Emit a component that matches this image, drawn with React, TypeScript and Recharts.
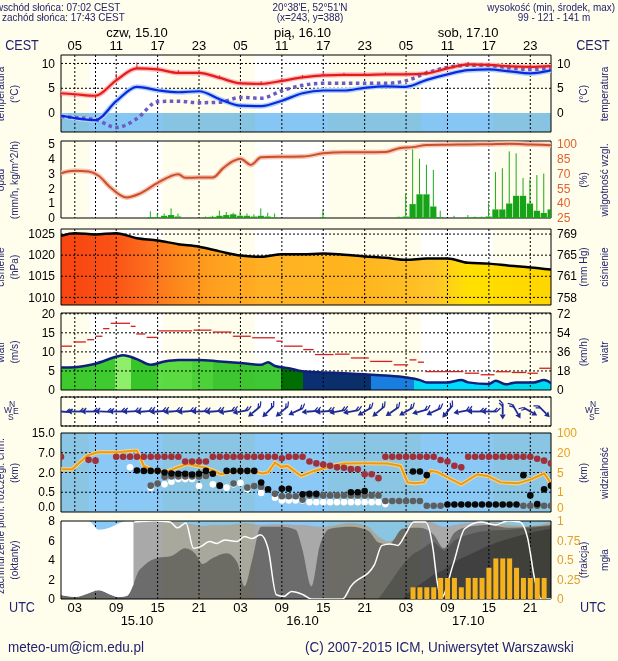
import React from "react";
import {
  Area,
  Bar,
  CartesianGrid,
  ComposedChart,
  ErrorBar,
  Line,
  ReferenceArea,
  Scatter,
  XAxis,
  YAxis,
} from "recharts";

const W = 618;
const H = 661;
const FONT = "'Liberation Sans', Arial, sans-serif";
const INK = "#22226e";
const BG = "#fffdec";
const NIGHT = "#dcdcdc";

// time axis: hours counted from 15.10 00 UTC
const X_DOMAIN = [1, 72];
const ENDS = X_DOMAIN.map((h) => ({ h }));
const HOURLY = Array.from({ length: 72 }, (_, i) => i + 1);
const gap = (n: number) => Array(n).fill(null);

const GRID_HOURS = [3, 6, 9, 12, 15, 18, 21, 24, 27, 30, 33, 36, 39, 42, 45, 48, 51, 54, 57, 60, 63, 66, 69];
const LABEL_HOURS = [3, 9, 15, 21, 27, 33, 39, 45, 51, 57, 63, 69];
const CEST_LABELS = ["05", "11", "17", "23", "05", "11", "17", "23", "05", "11", "17", "23"];
const UTC_LABELS = ["03", "09", "15", "21", "03", "09", "15", "21", "03", "09", "15", "21"];
const DAY_HOURS = [12, 36, 60];
const DAY_NAMES = ["czw, 15.10", "pią, 16.10", "sob, 17.10"];
const DATE_NAMES = ["15.10", "16.10", "17.10"];
const NIGHT_FROM = [1, 15.72, 39.68, 63.65];
const NIGHT_TO = [5.03, 29.07, 53.1, 72];

// temperature
const T_HOURS = [1, 3, 6, 9, 12, 15, 18, 21, 24, 27, 30, 33, 36, 39, 42, 45, 48, 51, 54, 57, 60, 63, 66, 69, 72];
const TEMP = [4.0, 3.8, 3.5, 6.6, 9.0, 8.8, 8.1, 8.1, 7.1, 6.0, 5.9, 6.5, 7.2, 7.6, 7.7, 7.7, 7.8, 7.8, 8.0, 9.0, 9.8, 9.7, 9.4, 9.3, 9.45];
const TEMP_DOWN = [0.8, 0.8, 0.6, 0, 0, 0, 0, 0, 0, 0, 0, 0, 0, 0, 0, 0, 0, 0, 0, 0, 0, 0, 0, 0, 0];
const TEMP_UP = [0, 0, 0, 1.3, 1.2, 0.8, 0.6, 0.6, 0.5, 0.3, 0.5, 0.6, 0.5, 0.5, 0.4, 0.4, 0.4, 0.4, 0.6, 0.6, 0.5, 0.4, 0.4, 0.4, 0.3];
const DEW = [-0.5, -1.0, -1.4, 2.4, 5.3, 4.6, 4.2, 4.4, 2.8, 1.5, 1.4, 2.5, 4.0, 4.55, 4.55, 5.1, 5.4, 5.3, 6.7, 7.8, 8.65, 8.8, 8.4, 8.0, 8.6];
const FEEL = [-0.7, -0.9, -1.3, -2.9, -1.1, 2.3, 2.4, 2.1, 2.2, 3.15, 3.0, 4.5, 5.6, 6.0, 6.0, 6.0, 6.0, 6.5, 8.1, 9.2, 9.65, 9.6, 9.1, 8.8, 9.0];

// precipitation (hourly, h1..h72) and relative humidity
const RAIN = [
  ...gap(13).map(() => 0),
  0.05, 0.05, 0.15, 0.2, 0.1, 0, 0, 0, 0.05, 0.08, 0.15, 0.2, 0.25, 0.15, 0.15, 0.1, 0.15, 0.1, 0.05,
  0, 0, 0, 0, 0, 0, 0.05,
  0, 0, 0, 0, 0, 0, 0, 0, 0, 0,
  0.05, 0.1, 0.94, 1.6, 1.6, 0.78, 0.05, 0, 0.02, 0, 0.02, 0.05, 0.05, 0.1, 0.58, 0.58, 0.98, 1.5, 1.5, 0.98, 0.49, 0.34, 0.58,
];
const RAIN_MAX = [
  ...gap(13).map(() => 0),
  0.45, 0.3, 0.3, 0.65, 0.3, 0, 0, 0, 0.1, 0.15, 0.5, 0.4, 0.35, 0.45, 0.3, 0.25, 0.65, 0.35, 0.3,
  0, 0, 0.6, 0.6, 0.45, 0.3, 0.55,
  0, 0, 0, 0, 0, 0, 0, 0, 0, 0,
  0.1, 1.68, 4.7, 4.0, 3.6, 3.25, 0.5, 0, 0.15, 0.15, 0.2, 0.1, 0.1, 0.98, 3.1, 3.36, 4.5, 4.37, 2.7, 2.6, 2.9, 3.0, 0.6,
];
const HUM_HOURS = [1, 3, 5, 6.5, 8, 10.5, 12.5, 15, 18, 19, 21, 23, 24.5, 26, 27, 28.5, 30, 33, 36, 39, 42, 45, 48, 50, 52, 54, 57, 60, 63, 66, 69, 72];
const HUM = [70.4, 72.8, 72, 67.5, 57, 45.8, 50, 60.5, 69.4, 65.7, 66, 66, 75.5, 82.8, 85, 78.8, 86.5, 87, 87.2, 90.5, 91.6, 91.6, 91.8, 95.7, 96.8, 99, 99.3, 99.5, 99.8, 100.3, 99.5, 98.7];

// pressure
const PRESS = [1024.6, 1025.2, 1024.9, 1025.2, 1024.0, 1023.5, 1022.6, 1022.0, 1020.9, 1019.9, 1019.6, 1020.2, 1020.2, 1020.4, 1020.1, 1019.7, 1019.4, 1018.9, 1019.2, 1019.2, 1018.2, 1018.0, 1017.5, 1017.1, 1016.6];
const PRESS_COLOR_HOURS = [1, 8, 13, 18, 23, 30, 45, 55, 60, 72];
const PRESS_COLORS = ["#f84412", "#fa5016", "#fc6a1c", "#fd8a1e", "#fea020", "#ffb024", "#ffb820", "#ffc42a", "#ffe000", "#ffd800"];

// wind
const WIND_HOURS = [1, 3, 6, 9, 10, 12, 14, 16, 18, 21, 24, 27, 30, 31, 32, 34, 36, 39, 42, 45, 48, 51, 53, 54, 57, 59, 60, 63, 64, 65.5, 67, 69.5, 71, 72];
const WIND = [5.9, 6.0, 6.9, 8.7, 9.1, 8.1, 6.6, 7.5, 7.9, 7.9, 7.5, 7.1, 6.6, 7.3, 6.3, 5.7, 4.9, 4.6, 4.4, 4.1, 3.8, 3.3, 2.6, 2.0, 2.0, 2.6, 2.0, 1.6, 2.4, 1.5, 2.0, 2.0, 2.6, 1.8];
const WIND_COLOR_HOURS = [1, 8.8, 11.1, 15, 20, 23, 32.9, 36, 45.9, 52.1];
const WIND_COLORS = ["#3ecb30", "#8ef06a", "#36c62a", "#5cdc46", "#4cd43c", "#3ec834", "#006e00", "#0b2f72", "#1a7ff0", "#00dcff"];
const GUST_START = [1, 2.8, 4.8, 6, 7.1, 8.2, 11.1, 11.9, 13.4, 15.1, 20.2, 23, 25.9, 28.7, 32.2, 33.3, 36.1, 37.8, 40.7, 43, 45.8, 49.2, 51.5, 52.7, 53.8, 59.5, 61.8, 64, 66.3, 68.6, 70.3];
const GUST_END = [2.6, 4.6, 5.8, 7.0, 8.0, 11.0, 11.8, 13.2, 15.0, 20.0, 22.8, 25.7, 28.5, 32.0, 33.1, 36.0, 37.6, 40.5, 42.8, 45.6, 49.0, 51.3, 52.5, 53.6, 59.3, 61.6, 63.8, 66.1, 68.4, 70.1, 72];
const GUST = [11.5, 12.6, 13.2, 14.1, 16.1, 17.5, 16.7, 14.7, 13.8, 15.5, 15.7, 15.2, 14.1, 13.7, 12.8, 11.5, 10.6, 9.3, 9.4, 8.4, 7.5, 6.6, 7.9, 7.3, 4.8, 4.4, 4.0, 4.8, 4.6, 4.4, 5.7];

// wind direction (degrees, where the wind comes from)
const DIR_HOURS = [1, 3, 5, 7, 9, 11, 13, 15, 17, 19, 21, 23, 25, 27, 29, 31, 33, 35, 37, 39, 41, 43, 45, 47, 49, 51, 53, 55, 57, 59, 61, 63, 65, 67, 69, 71];
const DIR = [95, 90, 90, 92, 90, 88, 85, 85, 85, 85, 88, 85, 82, 80, 50, 45, 50, 65, 85, 85, 80, 80, 60, 50, 55, 60, 75, 65, 40, 80, 90, 90, 0, 330, 300, 315];

// cloud base (km, left) and visibility (km, right)
const BASE_TICKS = [0, 0.5, 2, 7, 15];
const VIS_TICKS = [0, 1, 5, 20, 100];
const VIS_HOURS = [1, 2.6, 4.8, 6.3, 9.2, 11.4, 12, 13, 14.5, 16.4, 17.9, 19.3, 20.8, 21.8, 23.2, 24.2, 25.6, 27.2, 29, 30.2, 31, 32, 32.9, 33.8, 35.8, 37.7, 40.2, 42, 45.4, 48.3, 50.2, 51.2, 52.2, 53.6, 54.6, 55.5, 57, 59, 61.3, 62.8, 64.7, 67.2, 69.1, 71, 72];
const VIS = [7.5, 7.5, 17.8, 22, 22, 28, 28, 10, 6.2, 5.8, 8.9, 11.5, 10, 8.9, 6.2, 4.6, 5.5, 6.2, 5.8, 4.8, 5.2, 12.5, 9.3, 10, 4.3, 6.2, 10, 11.9, 12, 11.9, 10, 3.0, 2.8, 3.0, 6.2, 5.5, 4.0, 2.6, 4.6, 4.3, 3.0, 2.8, 3.6, 4.8, 2.8];
const BASE_HIGH = [
  6.0, null, null, null, 5.2, 5.0, null, null,
  6.0, 6.0, 6.0, 6.0, 6.0, 6.0, 6.0, 6.0, 6.0, 6.0,
  4.8, 4.8, 4.8, 4.8,
  6.0, 6.0, 6.0, 6.0, 6.0, 6.0, 6.0, 6.0, 6.0, 6.0,
  5.6, 6.0, 6.0, 6.0,
  4.8, 4.3, 4.0, 3.7, 3.3, 3.2, 2.85, 2.8, 1.87, 1.87, 1.57,
  6.0, 6.0, 6.0, 6.0, 6.0, 6.0, 6.0, 6.0,
  5.15, 4.8, 3.7, 3.3,
  6.0, 6.0, 6.0, 6.0, 6.0, 6.0, 6.0, 6.0, 6.0, 6.0,
  5.5, 5.0, 4.3,
];
const BASE_LOW = [
  ...gap(11),
  2.5, 2.4, 2.4, 2.4, 2.0, 1.92, 1.9, 1.9, 1.85, 1.9, 2.4, 1.9, 1.0, 2.4, 2.4, 2.4, 2.4, 2.4, 1.24, 0.72,
  null, 0.77, 0.77, null,
  0.45, 0.46, 0.46,
  ...gap(4),
  0.5, 0.5, 0.59,
  ...gap(6),
  2.25, 2.25, 1.8,
  ...gap(2),
  0.19, 0.19, 0.19, 0.19, 0.19, 0.19, 0.19, 0.19, 0.19, 0.19, 0.19,
  1.8, 0.42, 0.2, 0.72, 1.0,
];
const BASE_MID = [
  ...gap(13),
  1.0, 1.16, 1.67, 1.7, 1.7, 1.7, 1.7, 1.7, 1.74,
  null, 1.0, null, 1.16, null, 0.85, 0.98, 0.92, null,
  0.46, 0.4, 0.4, 0.4, 0.31,
  0.42, 0.42, 0.42, 0.42, 0.42, 0.42, 0.42, 0.42, 0.42, 0.42, 0.42,
  0.28, 0.28, 0.28, 0.28, 0.28, 0.28,
  0.16, 0.16, 0.16,
  ...gap(11),
  0.16, 0.16, 0.16, 0.16, 0.16,
];
const BASE_FOG = [
  ...gap(10),
  3.3, null, null, 0.85, null, 1.1, 1.3, 1.5, 1.5, 1.5, 0.98, null, 1.1, null, 0.85, 1.1, 1.2, 0.72, null, 0.48, null, 0.36,
  0.29, 0.29, 0.29, 0.29,
  0.25, 0.25, 0.25, 0.25, 0.25, 0.25, 0.25, 0.25, 0.25, 0.25, 0.25,
  0.2,
  ...gap(24),
];

// cloud cover (oktas) and fog fraction
const CLOUD_HOURS = [1, 3, 5, 6.5, 8, 9.5, 10.5, 11.5, 12, 13, 15, 17, 19, 20.5, 21.5, 23, 25, 26.5, 27.6, 28.7, 30, 33, 35, 36, 37.3, 38.5, 40, 43, 45.5, 47, 48.5, 50.5, 52, 53, 55, 56.5, 58, 60, 63, 66, 69, 72];
const CLOUD_WHITE = [8, 8, 8, 7.1, 7.3, 7.8, 8, 8, ...gap(34)];
const CLOUD_TOTAL = [...gap(6), 0, 8, 8, 8, 8, 7.9, 7.8, 7.6, 7.5, 7.6, 7.6, 7.7, 7.8, 7.7, 7.6, 7.7, 7.6, 7.6, 7.5, 7.4, 7.5, 7.8, 7.4, 6.4, 5.9, 7.0, 7.9, 8.0, 7.8, 7.4, 7.6, 7.8, 7.9, 7.6, 7.5, 7.9];
const CLOUD_MID = [0.4, 0.2, 0.6, 0.9, 0.5, 0.2, 0.3, 1.5, 2.5, 3.4, 4.2, 4.4, 5.2, 4.6, 3.6, 4.2, 4.7, 3.8, 1.3, 4.0, 7.4, 7.4, 7.1, 5.0, 1.3, 5.5, 7.2, 7.4, 7.0, 5.8, 5.6, 7.2, 7.3, 7.3, 6.6, 5.2, 6.8, 7.4, 7.6, 7.3, 7.4, 7.6];
const CLOUD_LOW = [...gap(29), 0, 1.5, 3.5, 4.6, 5.0, 5.8, 5.0, 6.0, 6.6, 7.0, 7.1, 7.3, 7.5];
const CLOUD_LOWEST = [...gap(31), 0, 1.0, 1.5, 2.5, 3.0, 3.8, 4.5, 5.5, 6.2, 6.8, 7.2];
const WL_HOURS = [11.6, 14.5, 16.8, 17.9, 19.1, 20.2, 21.3, 22.5, 23.6, 24.7, 26.5, 27.6, 28.7, 29.9, 31, 32.2, 33.3, 34.4, 36.1, 37.3, 41.8, 43, 46.4, 47.5, 48.7, 49.8, 50.9, 52.1, 53.8, 54.9, 55.5, 56.1, 57.8, 59.5, 61.8, 64, 65.7, 67.5, 68.6, 69.7, 70.6, 72];
const WL = [7.9, 8.0, 7.9, 7.3, 7.8, 5.2, 5.4, 5.9, 5.7, 6.05, 5.9, 6.4, 6.2, 6.6, 5.2, 0.44, 0.27, 0.78, 0.44, 0, 0, 1.3, 3.5, 5.5, 5.65, 5.5, 6.6, 7.9, 7.9, 5.2, 1.8, 0.1, 3.5, 7.2, 7.9, 7.6, 8.0, 7.9, 6.3, 1.8, 0, 0];
const FOG_HOURS = [52, 53, 54, 55, 56, 57, 58, 59, 60, 61, 62, 63, 64, 65, 66, 67, 68, 69, 70, 71];
const FOG = [0.15, 0.15, 0.15, 0.15, 0.27, 0.27, 0.27, 0.15, 0.27, 0.27, 0.27, 0.4, 0.52, 0.52, 0.52, 0.4, 0.27, 0.27, 0.27, 0.27];

function toPos(v: number, ticks: number[]) {
  for (let i = 0; i < ticks.length - 1; i++) {
    if (v <= ticks[i + 1]) return i + (v - ticks[i]) / (ticks[i + 1] - ticks[i]);
  }
  return ticks.length - 1;
}

function mergeRows(series: [string, number[], any[]][]) {
  const map = new Map<number, any>();
  for (const [key, hours, vals] of series) {
    hours.forEach((h, i) => {
      const v = vals[i];
      if (v === null || v === undefined) return;
      const row = map.get(h) ?? { h };
      row[key] = v;
      map.set(h, row);
    });
  }
  return [...map.values()].sort((a, b) => a.h - b.h);
}

const tempRows = T_HOURS.map((h, i) => ({ h, t: TEMP[i], td: DEW[i], tf: FEEL[i], terr: [TEMP_DOWN[i], TEMP_UP[i]] }));
const rainRows = HOURLY.flatMap((h, i) =>
  RAIN[i] > 0 || RAIN_MAX[i] > 0 ? [{ h, r: RAIN[i], re: [0, Math.max(0, RAIN_MAX[i] - RAIN[i])] }] : []
);
const humRows = mergeRows([["rh", HUM_HOURS, HUM]]);
const pressRows = mergeRows([["p", T_HOURS, PRESS]]);
const windRows = mergeRows([["w", WIND_HOURS, WIND]]);
const gustRows = GUST.map((g, i) => ({ h: (GUST_START[i] + GUST_END[i]) / 2, g, e: (GUST_END[i] - GUST_START[i]) / 2 }));
const dirRows = DIR_HOURS.map((h, i) => ({ h, y: 0, dir: DIR[i] }));
const visRows = mergeRows([["v", VIS_HOURS, VIS.map((v) => toPos(v, VIS_TICKS))]]);
const dotRows = (vals: any[]) => HOURLY.flatMap((h, i) => (vals[i] == null ? [] : [{ h, y: toPos(vals[i], BASE_TICKS) }]));
const cloudRows = mergeRows([
  ["wr", CLOUD_HOURS, CLOUD_WHITE.map((w, i) => (w == null ? null : [CLOUD_MID[i], w]))],
  ["a", CLOUD_HOURS, CLOUD_TOTAL],
  ["c", CLOUD_HOURS, CLOUD_MID],
  ["d", CLOUD_HOURS, CLOUD_LOW],
  ["e", CLOUD_HOURS, CLOUD_LOWEST],
  ["wl", WL_HOURS, WL],
]);
const fogRows = FOG_HOURS.map((h, i) => ({ h, f: FOG[i] }));

type Ax = { domain: number[]; ticks: number[]; fmt?: (v: number) => string; color?: string; lift?: (v: number) => number };
type Spec = { top: number; bottom: number; left: Ax; right: Ax | null; grid: number[] };

const S_TEMP: Spec = { top: 55, bottom: 132, left: { domain: [-3.8, 11.7], ticks: [0, 5, 10] }, right: { domain: [-3.8, 11.7], ticks: [0, 5, 10] }, grid: [5, 10] };
const S_RAIN: Spec = { top: 141, bottom: 218, left: { domain: [0, 5.2], ticks: [0, 1, 2, 3, 4, 5] }, right: { domain: [25, 103], ticks: [25, 40, 55, 70, 85, 100], color: "#e0622c" }, grid: [1, 2, 3, 4, 5] };
const S_PRES: Spec = { top: 229, bottom: 305, left: { domain: [1008.2, 1026.2], ticks: [1010, 1015, 1020, 1025] }, right: { domain: [1008.2, 1026.2], ticks: [1010, 1015, 1020, 1025], fmt: (v) => String(Math.round(v * 0.750062)) }, grid: [1010, 1015, 1020, 1025] };
const S_WIND: Spec = { top: 313, bottom: 390, left: { domain: [0, 20.2], ticks: [0, 5, 10, 15, 20] }, right: { domain: [0, 20.2], ticks: [0, 5, 10, 15, 20], fmt: (v) => String(Math.round(v * 3.6)) }, grid: [5, 10, 15, 20] };
const S_DIR: Spec = { top: 397, bottom: 426, left: { domain: [-1, 1], ticks: [] }, right: null, grid: [] };
const S_VIS: Spec = {
  top: 433, bottom: 512,
  left: { domain: [0, 4], ticks: [0, 1, 2, 3, 4], fmt: (v) => BASE_TICKS[v].toFixed(1), lift: (v) => (v === 0 ? -5 : 0) },
  right: { domain: [0, 4], ticks: [0, 1, 2, 3, 4], fmt: (v) => String(VIS_TICKS[v]), color: "#e8a020", lift: (v) => (v === 0 ? -4 : 0) },
  grid: [1, 2, 3],
};
const S_CLOUD: Spec = { top: 521, bottom: 599, left: { domain: [0, 8], ticks: [0, 2, 4, 6, 8] }, right: { domain: [0, 1], ticks: [0, 0.25, 0.5, 0.75, 1], color: "#e0a030" }, grid: [2, 4, 6] };

const axisTick = (ax: Ax) => (p: any) => {
  const v = p.payload.value;
  return (
    <text x={p.x} y={p.y + (ax.lift ? ax.lift(v) : 0)} dy="0.35em" textAnchor={p.textAnchor} fill={ax.color ?? "#000"} fontSize={12} fontFamily={FONT}>
      {ax.fmt ? ax.fmt(v) : v}
    </text>
  );
};

function Layer({ spec, data, show = false, blend = false, children }: any) {
  const pad = 6;
  const r: Ax = spec.right ?? { domain: [0, 1], ticks: [] };
  return (
    <div style={{ position: "absolute", left: 0, top: spec.top - pad, mixBlendMode: blend ? "multiply" : "normal" }}>
      <ComposedChart width={W} height={spec.bottom - spec.top + 2 * pad} data={data ?? ENDS} margin={{ top: pad, right: 0, bottom: pad, left: 0 }}>
        <XAxis xAxisId="h" type="number" dataKey="h" domain={X_DOMAIN} ticks={GRID_HOURS} allowDataOverflow hide />
        <YAxis yAxisId="l" type="number" width={61} domain={spec.left.domain} ticks={spec.left.ticks} interval={0} allowDataOverflow
          tick={show ? axisTick(spec.left) : false} axisLine={false} tickLine={false} tickSize={0} tickMargin={6} />
        <YAxis yAxisId="r" orientation="right" type="number" width={67} domain={r.domain} ticks={r.ticks} interval={0} allowDataOverflow
          tick={show && spec.right ? axisTick(r) : false} axisLine={false} tickLine={false} tickSize={0} tickMargin={6} />
        {children}
      </ComposedChart>
    </div>
  );
}

const dayAreas = () =>
  NIGHT_TO.slice(0, 3).map((from, i) => (
    <ReferenceArea key={"d" + i} xAxisId="h" yAxisId="l" x1={from} x2={NIGHT_FROM[i + 1]} fill="#ffffff" fillOpacity={1} stroke="none" />
  ));

const gridFor = (spec: Spec) => [
  <CartesianGrid key="g" xAxisId="h" yAxisId="l" verticalValues={GRID_HOURS} horizontalValues={spec.grid} stroke="#000" strokeDasharray="2 2" />,
  <ReferenceArea key="f" xAxisId="h" yAxisId="l" x1={X_DOMAIN[0]} x2={X_DOMAIN[1]} y1={spec.left.domain[0]} y2={spec.left.domain[1]} fill="none" stroke="#000" strokeWidth={1} />,
];

const ser = { xAxisId: "h", yAxisId: "l", isAnimationActive: false, dot: false, activeDot: false } as any;

const dotShape = (color: string) => (p: any) =>
  p.cx == null ? <g /> : <circle cx={p.cx} cy={p.cy} r={3.3} fill={color} />;

function WindArrow(p: any) {
  const { cx, cy, payload } = p;
  if (cx == null || cy == null) return <g />;
  const a = (payload.dir * Math.PI) / 180;
  const ux = -Math.sin(a);
  const uy = Math.cos(a);
  const vx = -uy;
  const vy = ux;
  const L = 8;
  const tx = cx - ux * L, ty = cy - uy * L;
  const hx = cx + ux * L, hy = cy + uy * L;
  const bx = hx - ux * 5, by = hy - uy * 5;
  const head = `${hx},${hy} ${bx + vx * 3},${by + vy * 3} ${bx - vx * 3},${by - vy * 3}`;
  const f = `M${tx},${ty} l${(vx - ux) * 3.5},${(vy - uy) * 3.5} M${tx + ux * 3},${ty + uy * 3} l${(vx - ux) * 3.5},${(vy - uy) * 3.5}`;
  return (
    <g stroke="#1e2a96" fill="#1e2a96">
      <line x1={tx} y1={ty} x2={bx} y2={by} strokeWidth={1.8} />
      <polygon points={head} stroke="none" />
      <path d={f} fill="none" strokeWidth={1.2} />
    </g>
  );
}

function Backdrop() {
  return (
    <div style={{ position: "absolute", left: 0, top: 0 }}>
      <ComposedChart width={W} height={H} data={ENDS} margin={{ top: 27, right: 67, bottom: 33, left: 61 }}>
        <XAxis xAxisId="h" type="number" dataKey="h" domain={X_DOMAIN} allowDataOverflow hide />
        <YAxis yAxisId="l" domain={[0, 1]} hide />
        {NIGHT_FROM.map((from, i) => (
          <ReferenceArea key={i} xAxisId="h" yAxisId="l" x1={from} x2={NIGHT_TO[i]} fill={NIGHT} fillOpacity={1} stroke="none" />
        ))}
      </ComposedChart>
    </div>
  );
}

const scaleTick = { fill: "#000", fontSize: 13, fontFamily: FONT };

function TopScale() {
  return (
    <div style={{ position: "absolute", left: 0, top: 23 }}>
      <ComposedChart width={W} height={33} data={ENDS} margin={{ top: 0, right: 67, bottom: 0, left: 61 }}>
        <XAxis xAxisId="t1" orientation="top" type="number" dataKey="h" domain={X_DOMAIN} ticks={LABEL_HOURS} interval={0} height={16}
          axisLine={false} tickLine={false} tickSize={0} tickMargin={5} tick={scaleTick}
          tickFormatter={(v) => CEST_LABELS[LABEL_HOURS.indexOf(v)]} />
        <XAxis xAxisId="t2" orientation="top" type="number" dataKey="h" domain={X_DOMAIN} ticks={DAY_HOURS} interval={0} height={16}
          axisLine={false} tickLine={false} tickSize={0} tickMargin={2.5} tick={scaleTick}
          tickFormatter={(v) => DAY_NAMES[DAY_HOURS.indexOf(v)]} />
        <YAxis hide />
      </ComposedChart>
    </div>
  );
}

function BottomScale() {
  return (
    <div style={{ position: "absolute", left: 0, top: 598 }}>
      <ComposedChart width={W} height={36} data={ENDS} margin={{ top: 0, right: 67, bottom: 5, left: 61 }}>
        <XAxis xAxisId="b1" type="number" dataKey="h" domain={X_DOMAIN} ticks={LABEL_HOURS} interval={0} height={14}
          axisLine={false} tickLine={false} tickSize={0} tickMargin={4} tick={scaleTick}
          tickFormatter={(v) => UTC_LABELS[LABEL_HOURS.indexOf(v)]} />
        <XAxis xAxisId="b2" type="number" dataKey="h" domain={X_DOMAIN} ticks={DAY_HOURS} interval={0} height={16}
          axisLine={false} tickLine={false} tickSize={0} tickMargin={3} tick={scaleTick}
          tickFormatter={(v) => DATE_NAMES[DAY_HOURS.indexOf(v)]} />
        <YAxis hide />
      </ComposedChart>
    </div>
  );
}

function Txt({ x, y, align = "left", size = 11, color = INK, squeeze = 0.9, children }: any) {
  const tx = align === "center" ? "-50%" : align === "right" ? "-100%" : "0";
  const ox = align === "center" ? "50%" : align === "right" ? "100%" : "0";
  return (
    <div style={{ position: "absolute", left: x, top: y, transform: `translate(${tx}, -50%) scaleX(${squeeze})`, transformOrigin: `${ox} 50%`, whiteSpace: "nowrap", fontSize: size, color, fontFamily: FONT, lineHeight: 1 }}>
      {children}
    </div>
  );
}

function VText({ x, y, size = 11.5, color = INK, children }: any) {
  return (
    <div style={{ position: "absolute", left: x, top: y, transform: "translate(-50%, -50%) rotate(-90deg) scaleX(0.88)", whiteSpace: "nowrap", fontSize: size, color, fontFamily: FONT, lineHeight: 1 }}>
      {children}
    </div>
  );
}

function Compass({ x, y }: any) {
  const s = { position: "absolute", fontSize: 8.5, lineHeight: 1 } as any;
  return (
    <div style={{ position: "absolute", left: x, top: y, width: 16, height: 24, color: INK, fontFamily: FONT }}>
      <span style={{ ...s, left: 5, top: 0 }}>N</span>
      <span style={{ ...s, left: 0, top: 6 }}>W</span>
      <span style={{ ...s, left: 9, top: 7 }}>E</span>
      <span style={{ ...s, left: 4, top: 13 }}>S</span>
    </div>
  );
}

export default function App() {
  const mid = (s: Spec) => (s.top + s.bottom) / 2;
  return (
    <div style={{ position: "absolute", left: 0, top: 0, width: W, height: H, background: BG, overflow: "hidden", fontFamily: FONT }}>
      <Backdrop />
      <TopScale />
      <BottomScale />

      {/* temperature */}
      <Layer spec={S_TEMP}>{dayAreas()}</Layer>
      <Layer spec={S_TEMP} blend>
        <ReferenceArea xAxisId="h" yAxisId="l" x1={X_DOMAIN[0]} x2={X_DOMAIN[1]} y1={S_TEMP.left.domain[0]} y2={0} fill="#86c6f4" fillOpacity={1} stroke="none" />
      </Layer>
      <Layer spec={S_TEMP} data={tempRows} show>
        {gridFor(S_TEMP)}
        <Line {...ser} dataKey="t" type="monotone" stroke="#ffbcbc" strokeWidth={5} />
        <Line {...ser} dataKey="td" type="monotone" stroke="#b0d2f8" strokeWidth={5} />
        <Line {...ser} dataKey="tf" type="monotone" stroke="#6a5cc0" strokeWidth={3.5} strokeDasharray="3.5 3.5" />
        <Line {...ser} dataKey="td" type="monotone" stroke="#0a28e0" strokeWidth={2.2} />
        <Line {...ser} dataKey="t" type="monotone" stroke="#e41c1c" strokeWidth={2.2}>
          <ErrorBar dataKey="terr" direction="y" width={0} stroke="#e41c1c" strokeWidth={1} isAnimationActive={false} />
        </Line>
      </Layer>

      {/* precipitation + humidity */}
      <Layer spec={S_RAIN}>{dayAreas()}</Layer>
      <Layer spec={S_RAIN} data={rainRows}>
        {gridFor(S_RAIN)}
        <Bar xAxisId="h" yAxisId="l" dataKey="r" fill="#16a416" barSize={7} isAnimationActive={false}>
          <ErrorBar dataKey="re" direction="y" width={0} stroke="#1ea81e" strokeWidth={1} isAnimationActive={false} />
        </Bar>
      </Layer>
      <Layer spec={S_RAIN} data={humRows} show>
        <Line {...ser} yAxisId="r" dataKey="rh" type="monotone" stroke="#f8c6b6" strokeWidth={5} />
        <Line {...ser} yAxisId="r" dataKey="rh" type="monotone" stroke="#c8502a" strokeWidth={2} />
      </Layer>

      {/* pressure */}
      <Layer spec={S_PRES}>{dayAreas()}</Layer>
      <Layer spec={S_PRES} data={pressRows} blend>
        <defs>
          <linearGradient id="pressFill" x1="0" y1="0" x2="1" y2="0">
            {PRESS_COLOR_HOURS.map((h, i) => (
              <stop key={i} offset={(h - X_DOMAIN[0]) / (X_DOMAIN[1] - X_DOMAIN[0])} stopColor={PRESS_COLORS[i]} />
            ))}
          </linearGradient>
        </defs>
        <Area {...ser} dataKey="p" type="monotone" baseValue={S_PRES.left.domain[0]} stroke="none" fill="url(#pressFill)" fillOpacity={1} />
      </Layer>
      <Layer spec={S_PRES} data={pressRows} show>
        {gridFor(S_PRES)}
        <Line {...ser} dataKey="p" type="monotone" stroke="#000" strokeWidth={2.5} />
      </Layer>

      {/* wind */}
      <Layer spec={S_WIND}>{dayAreas()}</Layer>
      <Layer spec={S_WIND} data={windRows} blend>
        <defs>
          <linearGradient id="windFill" x1="0" y1="0" x2="1" y2="0">
            {WIND_COLOR_HOURS.flatMap((h, i) => {
              const end = WIND_COLOR_HOURS[i + 1] ?? X_DOMAIN[1];
              const span = X_DOMAIN[1] - X_DOMAIN[0];
              return [
                <stop key={"a" + i} offset={(h - X_DOMAIN[0]) / span} stopColor={WIND_COLORS[i]} />,
                <stop key={"b" + i} offset={(end - X_DOMAIN[0]) / span} stopColor={WIND_COLORS[i]} />,
              ];
            })}
          </linearGradient>
        </defs>
        <Area {...ser} dataKey="w" type="monotone" stroke="none" fill="url(#windFill)" fillOpacity={1} />
      </Layer>
      <Layer spec={S_WIND} data={windRows} show>
        {gridFor(S_WIND)}
        <Line {...ser} dataKey="w" type="monotone" stroke="#10207a" strokeWidth={2.5} />
        <Scatter xAxisId="h" yAxisId="l" data={gustRows} dataKey="g" shape={() => <g />} isAnimationActive={false}>
          <ErrorBar dataKey="e" direction="x" width={0} stroke="#d42020" strokeWidth={1.3} isAnimationActive={false} />
        </Scatter>
      </Layer>

      {/* wind direction */}
      <Layer spec={S_DIR}>{dayAreas()}</Layer>
      <Layer spec={S_DIR} data={dirRows}>
        {gridFor(S_DIR)}
        <Scatter xAxisId="h" yAxisId="l" data={dirRows} dataKey="y" shape={WindArrow} isAnimationActive={false} />
      </Layer>

      {/* cloud base + visibility */}
      <Layer spec={S_VIS}>{dayAreas()}</Layer>
      <Layer spec={S_VIS} blend>
        <ReferenceArea xAxisId="h" yAxisId="l" x1={X_DOMAIN[0]} x2={X_DOMAIN[1]} y1={0} y2={4} fill="#8ac8f6" fillOpacity={1} stroke="none" />
      </Layer>
      <Layer spec={S_VIS} data={visRows} show>
        {gridFor(S_VIS)}
        <Line {...ser} dataKey="v" type="linear" stroke="#f6d48a" strokeWidth={4} />
        <Line {...ser} dataKey="v" type="linear" stroke="#ee9a10" strokeWidth={2} />
        <Scatter xAxisId="h" yAxisId="l" data={dotRows(BASE_HIGH)} dataKey="y" shape={dotShape("#a0303a")} isAnimationActive={false} />
        <Scatter xAxisId="h" yAxisId="l" data={dotRows(BASE_FOG)} dataKey="y" shape={dotShape("#ffffff")} isAnimationActive={false} />
        <Scatter xAxisId="h" yAxisId="l" data={dotRows(BASE_MID)} dataKey="y" shape={dotShape("#5e5e5e")} isAnimationActive={false} />
        <Scatter xAxisId="h" yAxisId="l" data={dotRows(BASE_LOW)} dataKey="y" shape={dotShape("#080808")} isAnimationActive={false} />
      </Layer>

      {/* cloud cover + fog */}
      <Layer spec={S_CLOUD}>{dayAreas()}</Layer>
      <Layer spec={S_CLOUD} data={cloudRows} blend>
        <ReferenceArea xAxisId="h" yAxisId="l" x1={X_DOMAIN[0]} x2={X_DOMAIN[1]} y1={0} y2={8} fill="#8ac8f6" fillOpacity={1} stroke="none" />
        <Area {...ser} dataKey="a" type="monotone" connectNulls stroke="none" fill="#a9a9a9" fillOpacity={1} />
        <Area {...ser} dataKey="c" type="monotone" connectNulls stroke="none" fill="#6c6c6c" fillOpacity={1} />
        <Area {...ser} dataKey="d" type="monotone" connectNulls stroke="none" fill="#555555" fillOpacity={1} />
        <Area {...ser} dataKey="e" type="monotone" connectNulls stroke="none" fill="#404040" fillOpacity={1} />
      </Layer>
      <Layer spec={S_CLOUD} data={cloudRows}>
        <Area {...ser} dataKey="wr" type="monotone" stroke="none" fill="#ffffff" fillOpacity={1} />
        {gridFor(S_CLOUD)}
        <Line {...ser} dataKey="wl" type="monotone" connectNulls stroke="#ffffff" strokeWidth={1.5} />
      </Layer>
      <Layer spec={S_CLOUD} data={fogRows} show>
        <Bar xAxisId="h" yAxisId="r" dataKey="f" fill="#f6b21c" barSize={5} isAnimationActive={false} />
      </Layer>

      {/* header */}
      <Txt x={-4} y={6.5}>wschód słońca: 07:02 CEST</Txt>
      <Txt x={2} y={17}>zachód słońca: 17:43 CEST</Txt>
      <Txt x={310} y={6.5} align="center">20°38'E, 52°51'N</Txt>
      <Txt x={310} y={17} align="center">(x=243,  y=388)</Txt>
      <Txt x={615} y={6.5} align="right">wysokość (min, środek, max)</Txt>
      <Txt x={554} y={17} align="center">99 - 121 - 141 m</Txt>
      <Txt x={22} y={45} align="center" size={14}>CEST</Txt>
      <Txt x={593} y={45} align="center" size={14}>CEST</Txt>
      <Txt x={22} y={607} align="center" size={14}>UTC</Txt>
      <Txt x={593} y={607} align="center" size={14}>UTC</Txt>

      {/* axis titles */}
      <VText x={1} y={mid(S_TEMP)}>temperatura</VText>
      <VText x={15} y={mid(S_TEMP)}>(°C)</VText>
      <VText x={1} y={mid(S_RAIN)}>opad</VText>
      <VText x={15} y={mid(S_RAIN)}>(mm/h, kg/m^2/h)</VText>
      <VText x={1} y={mid(S_PRES)}>ciśnienie</VText>
      <VText x={15} y={mid(S_PRES)}>(hPa)</VText>
      <VText x={1} y={mid(S_WIND)}>wiatr</VText>
      <VText x={15} y={mid(S_WIND)}>(m/s)</VText>
      <VText x={1} y={(S_VIS.top + S_CLOUD.bottom) / 2}>zachmurzenie pion. rozczegl. chm.</VText>
      <VText x={15} y={mid(S_VIS)}>(km)</VText>
      <VText x={15} y={mid(S_CLOUD)}>(oktanty)</VText>
      <VText x={584} y={mid(S_TEMP)}>(°C)</VText>
      <VText x={605} y={mid(S_TEMP)}>temperatura</VText>
      <VText x={584} y={mid(S_RAIN)}>(%)</VText>
      <VText x={605} y={mid(S_RAIN)}>wilgotność wzgl.</VText>
      <VText x={584} y={mid(S_PRES)}>(mm Hg)</VText>
      <VText x={605} y={mid(S_PRES)}>ciśnienie</VText>
      <VText x={584} y={mid(S_WIND)}>(km/h)</VText>
      <VText x={605} y={mid(S_WIND)}>wiatr</VText>
      <VText x={584} y={mid(S_VIS)}>(km)</VText>
      <VText x={605} y={mid(S_VIS)}>widzialność</VText>
      <VText x={584} y={mid(S_CLOUD)}>(frakcja)</VText>
      <VText x={605} y={mid(S_CLOUD)}>mgła</VText>
      <Compass x={4} y={400} />
      <Compass x={585} y={400} />

      {/* footer */}
      <Txt x={8} y={646} size={15}>meteo-um@icm.edu.pl</Txt>
      <Txt x={305} y={646} size={15}>(C) 2007-2015 ICM, Uniwersytet Warszawski</Txt>
    </div>
  );
}
